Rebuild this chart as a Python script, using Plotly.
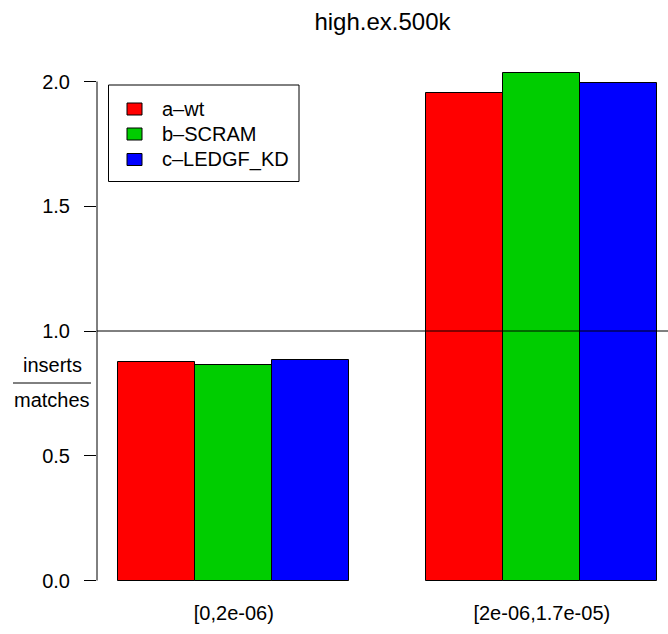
import plotly.graph_objects as go

# ---- data ----
categories = ["[0,2e-06)", "[2e-06,1.7e-05)"]
series_names = ["a\u2013wt", "b\u2013SCRAM", "c\u2013LEDGF_KD"]
series_colors = ["#FF0000", "#00CD00", "#0000FF"]
wt_values = [0.877, 1.953]
scram_values = [0.864, 2.035]
ledgf_values = [0.883, 1.993]
y_ticks = [0.0, 0.5, 1.0, 1.5, 2.0]
y_tick_labels = ["0.0", "0.5", "1.0", "1.5", "2.0"]
title_text = "high.ex.500k"
ylab_top = "inserts"
ylab_bottom = "matches"

series_values = [wt_values, scram_values, ledgf_values]

# ---- geometry (pixels) ----
W, H = 668, 634
L, R, T, B = 97, 0, 60, 44
plot_w = W - L - R
plot_h = H - T - B
plot_bottom_px = H - B
zero_px = 580.5
px_per_unit = 249.5
x0_px = 41.3          # pixel of bar-unit 0
px_per_bar = 77.0

y_lo = -(plot_bottom_px - zero_px) / px_per_unit
y_hi = (zero_px - T) / px_per_unit
x_lo = (L - x0_px) / px_per_bar
x_hi = (W - R - x0_px) / px_per_bar

FONT = "Liberation Sans, Arial, Helvetica, sans-serif"
FS = 20

def px_x(p):
    return (p - L) / plot_w

def px_y(p):
    return (plot_bottom_px - p) / plot_h

fig = go.Figure()
n_series = len(series_names)
group_centers = []
for gi, cat in enumerate(categories):
    start = 1 + gi * (n_series + 1)
    group_centers.append(start + n_series / 2)
for si in range(n_series):
    xs = [1 + gi * (n_series + 1) + si + 0.5 for gi in range(len(categories))]
    fig.add_trace(go.Bar(
        x=xs, y=series_values[si], width=1.0, name=series_names[si],
        marker=dict(color=series_colors[si], line=dict(color="black", width=1)),
        showlegend=False, hoverinfo="skip",
    ))

shapes = []
# y axis line from 0 to 2
shapes.append(dict(type="line", xref="paper", yref="y", x0=0, x1=0,
                   y0=y_ticks[0], y1=y_ticks[-1], line=dict(color="black", width=1)))
# reference line at 1
shapes.append(dict(type="line", xref="paper", yref="y", x0=0, x1=1,
                   y0=1, y1=1, line=dict(color="black", width=1)))
# legend box
lb_l, lb_t, lb_r, lb_b = 108.5, 85, 299, 181.5
shapes.append(dict(type="rect", xref="paper", yref="paper",
                   x0=px_x(lb_l), x1=px_x(lb_r), y0=px_y(lb_b), y1=px_y(lb_t),
                   line=dict(color="black", width=1), fillcolor="white"))
row_centers = [109, 134, 159.5]
annotations = []
for si in range(n_series):
    cy = row_centers[si]
    shapes.append(dict(type="rect", xref="paper", yref="paper",
                       x0=px_x(127), x1=px_x(142), y0=px_y(cy + 6), y1=px_y(cy - 6),
                       line=dict(color="black", width=1), fillcolor=series_colors[si]))
    annotations.append(dict(text=series_names[si], xref="paper", yref="paper",
                            x=px_x(160), y=px_y(cy), xanchor="left", yanchor="middle",
                            showarrow=False, font=dict(family=FONT, size=FS, color="black")))
# y label as fraction
shapes.append(dict(type="line", xref="paper", yref="paper",
                   x0=px_x(13), x1=px_x(91), y0=px_y(383), y1=px_y(383),
                   line=dict(color="black", width=1)))
annotations.append(dict(text=ylab_top, xref="paper", yref="paper", x=px_x(52), y=px_y(365),
                        xanchor="center", yanchor="middle", showarrow=False,
                        font=dict(family=FONT, size=FS, color="black")))
annotations.append(dict(text=ylab_bottom, xref="paper", yref="paper", x=px_x(52), y=px_y(400),
                        xanchor="center", yanchor="middle", showarrow=False,
                        font=dict(family=FONT, size=FS, color="black")))

fig.update_layout(
    width=W, height=H,
    margin=dict(l=L, r=R, t=T, b=B, pad=0),
    paper_bgcolor="white", plot_bgcolor="white",
    title=dict(text=title_text, x=0.5, xref="paper", xanchor="center",
               y=1 - 22 / H, yref="container", yanchor="middle",
               font=dict(family=FONT, size=24, color="black")),
    barmode="overlay",
    bargap=0,
    showlegend=False,
    shapes=shapes,
    annotations=annotations,
    font=dict(family=FONT, size=FS, color="black"),
    xaxis=dict(range=[x_lo, x_hi], tickvals=group_centers, ticktext=categories,
               showgrid=False, zeroline=False, showline=False, ticks="",
               ticklabelstandoff=9, tickfont=dict(family=FONT, size=FS, color="black")),
    yaxis=dict(range=[y_lo, y_hi], tickvals=y_ticks, ticktext=y_tick_labels,
               showgrid=False, zeroline=False, showline=False,
               ticks="outside", ticklen=12, tickwidth=1, tickcolor="black",
               ticklabelstandoff=10, tickfont=dict(family=FONT, size=FS, color="black")),
)

fig.write_html("out.html")
